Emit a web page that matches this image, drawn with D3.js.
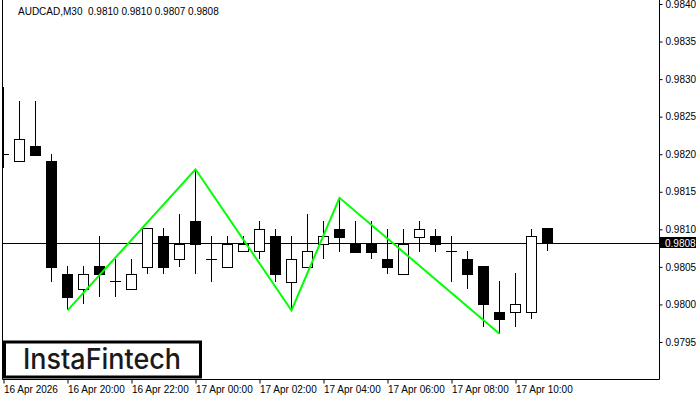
<!DOCTYPE html>
<html>
<head>
<meta charset="utf-8">
<script src="https://cdn.jsdelivr.net/npm/d3@7"></script>
<style>
  body { margin: 0; background: #fff; }
  text { font-family: "Liberation Sans", Arial, sans-serif; }
</style>
</head>
<body>
<svg id="chart"></svg>
<script>
const width = 700, height = 400;
const plot = {left: 2, right: 659, top: 0, bottom: 379};

// AUDCAD M30 candles, 16 Apr 18:00 -> 17 Apr 11:00
const times = ["18:00", "18:30", "19:00", "19:30", "20:00", "20:30", "21:00", "21:30", "22:00", "22:30",
  "23:00", "23:30", "00:00", "00:30", "01:00", "01:30", "02:00", "02:30", "03:00", "03:30",
  "04:00", "04:30", "05:00", "05:30", "06:00", "06:30", "07:00", "07:30", "08:00", "08:30",
  "09:00", "09:30", "10:00", "10:30", "11:00"];
const opens = [0.98200, 0.98191, 0.98211, 0.98191, 0.98041, 0.98020, 0.98051, 0.98031, 0.98020, 0.98050,
  0.98091, 0.98061, 0.98111, 0.98061, 0.98050, 0.98071, 0.98071, 0.98091, 0.98030, 0.98050,
  0.98081, 0.98101, 0.98081, 0.98081, 0.98061, 0.98041, 0.98090, 0.98091, 0.98071, 0.98061,
  0.98051, 0.97990, 0.97990, 0.97990, 0.98102];
const highs = [0.98290, 0.98271, 0.98271, 0.98200, 0.98051, 0.98051, 0.98091, 0.98061, 0.98061, 0.98102,
  0.98102, 0.98120, 0.98180, 0.98091, 0.98091, 0.98091, 0.98111, 0.98101, 0.98091, 0.98120,
  0.98111, 0.98142, 0.98111, 0.98111, 0.98101, 0.98101, 0.98111, 0.98101, 0.98091, 0.98071,
  0.98051, 0.98031, 0.98042, 0.98101, 0.98102];
const lows = [0.98182, 0.98191, 0.98199, 0.98030, 0.97992, 0.98001, 0.98010, 0.98010, 0.98020, 0.98041,
  0.98041, 0.98050, 0.98041, 0.98030, 0.98050, 0.98071, 0.98061, 0.98030, 0.97992, 0.98050,
  0.98061, 0.98070, 0.98070, 0.98060, 0.98040, 0.98041, 0.98070, 0.98070, 0.98030, 0.98020,
  0.97970, 0.97961, 0.97970, 0.97981, 0.98071];
const closes = [0.98200, 0.98220, 0.98199, 0.98050, 0.98010, 0.98041, 0.98041, 0.98031, 0.98041, 0.98102,
  0.98050, 0.98081, 0.98081, 0.98061, 0.98081, 0.98081, 0.98101, 0.98041, 0.98061, 0.98071,
  0.98091, 0.98090, 0.98070, 0.98070, 0.98050, 0.98081, 0.98101, 0.98081, 0.98071, 0.98041,
  0.98001, 0.97981, 0.98001, 0.98091, 0.98082];

// green pattern polyline
const patternTimes = ["20:00", "00:00", "03:00", "04:30", "09:30"];
const patternValues = [0.97992, 0.98180, 0.97992, 0.98142, 0.97961];

const tickTimes = ["18:00", "20:00", "22:00", "00:00", "02:00", "04:00", "06:00", "08:00", "10:00"];
const tickLabels = ["16 Apr 2026", "16 Apr 20:00", "16 Apr 22:00", "17 Apr 00:00", "17 Apr 02:00",
  "17 Apr 04:00", "17 Apr 06:00", "17 Apr 08:00", "17 Apr 10:00"];
const priceTicks = [0.9795, 0.9800, 0.9805, 0.9810, 0.9815, 0.9820, 0.9825, 0.9830, 0.9835, 0.9840];

const svg = d3.select("#chart")
    .attr("width", width)
    .attr("height", height)
    .style("background", "#ffffff");

const xScale = d3.scalePoint()
    .domain(times)
    .range([3, 3 + 16 * (times.length - 1)]);

const yScale = d3.scaleLinear()
    .domain([0.9795, 0.9840])
    .range([342, 4]);

svg.append("clipPath").attr("id", "plotclip")
  .append("rect")
    .attr("x", plot.left + 1).attr("y", 0)
    .attr("width", plot.right - plot.left - 1).attr("height", plot.bottom);

const g = svg.append("g").attr("clip-path", "url(#plotclip)");

// current price line
const last = closes[closes.length - 1];
g.append("line")
    .attr("x1", plot.left).attr("x2", plot.right)
    .attr("y1", Math.round(yScale(last)) + 0.5).attr("y2", Math.round(yScale(last)) + 0.5)
    .attr("stroke", "#000").attr("stroke-width", 1);

const candles = times.map((t, i) => ({t: t, o: opens[i], h: highs[i], l: lows[i], c: closes[i]}));

const cg = g.append("g").attr("shape-rendering", "crispEdges");

// wicks
cg.selectAll(".wick")
  .data(candles)
  .join("line")
    .attr("x1", d => xScale(d.t) + 0.5).attr("x2", d => xScale(d.t) + 0.5)
    .attr("y1", d => Math.round(yScale(d.h))).attr("y2", d => Math.round(yScale(d.l)))
    .attr("stroke", "#000");

// bodies
cg.selectAll(".body")
  .data(candles.filter(d => Math.round(yScale(d.o)) !== Math.round(yScale(d.c))))
  .join("rect")
    .attr("x", d => xScale(d.t) - 4.5)
    .attr("y", d => Math.round(yScale(Math.max(d.o, d.c))) + 0.5)
    .attr("width", 10)
    .attr("height", d => Math.round(yScale(Math.min(d.o, d.c))) - Math.round(yScale(Math.max(d.o, d.c))))
    .attr("fill", d => d.c > d.o ? "#fff" : "#000")
    .attr("stroke", "#000");

// doji
cg.selectAll(".doji")
  .data(candles.filter(d => Math.round(yScale(d.o)) === Math.round(yScale(d.c))))
  .join("line")
    .attr("x1", d => xScale(d.t) - 5).attr("x2", d => xScale(d.t) + 6)
    .attr("y1", d => Math.round(yScale(d.o)) + 0.5).attr("y2", d => Math.round(yScale(d.o)) + 0.5)
    .attr("stroke", "#000");

// pattern
const pattern = patternTimes.map((t, i) => ({t: t, v: patternValues[i]}));
g.append("path")
    .datum(pattern)
    .attr("fill", "none")
    .attr("stroke", "#00ff00")
    .attr("stroke-width", 2)
    .attr("d", d3.line().x(d => xScale(d.t) + 0.5).y(d => yScale(d.v)));

// frame
svg.append("path")
    .attr("d", `M${plot.left + 0.5},0V${plot.bottom + 0.5}H${plot.right + 0.5}V0`)
    .attr("fill", "none").attr("stroke", "#000");

// right price axis
const yAxis = svg.append("g")
    .attr("transform", `translate(${plot.right + 0.5},0)`)
    .call(d3.axisRight(yScale).tickValues(priceTicks).tickFormat(d3.format(".4f")).tickSize(3).tickPadding(3))
    .call(a => a.select(".domain").remove());
yAxis.selectAll("text").style("font-size", "10px").attr("fill", "#000")
    .style("font-family", "'Liberation Sans', Arial, sans-serif");
yAxis.selectAll("line").attr("stroke", "#000");

// current price label
const ly = Math.round(yScale(last));
svg.append("rect")
    .attr("x", plot.right + 1).attr("y", ly - 6)
    .attr("width", 36).attr("height", 11)
    .attr("fill", "#000");
svg.append("text")
    .attr("x", plot.right + 6).attr("y", ly)
    .attr("dy", "0.35em")
    .attr("fill", "#fff")
    .style("font-size", "10px")
    .text(d3.format(".4f")(last));

// bottom time axis
const xAxis = svg.append("g")
    .attr("transform", `translate(0.5,${plot.bottom + 0.5})`)
    .call(d3.axisBottom(xScale).tickValues(tickTimes).tickFormat((d, i) => tickLabels[i]).tickSize(4))
    .call(a => a.select(".domain").remove());
xAxis.selectAll("line").attr("stroke", "#000");
xAxis.selectAll("text")
    .attr("text-anchor", "start")
    .attr("x", 0).attr("y", 6).attr("dy", "0.71em")
    .attr("fill", "#000")
    .style("font-size", "10px")
    .style("font-family", "'Liberation Sans', Arial, sans-serif");

// title
const f4 = d3.format(".4f");
svg.append("text")
    .attr("x", 18).attr("y", 15)
    .style("font-size", "10px")
    .style("white-space", "pre")
    .attr("fill", "#000")
    .text(`AUDCAD,M30  ${f4(opens[34])} ${f4(highs[34])} ${f4(lows[34])} ${f4(closes[34])}`);

// logo
svg.append("rect")
    .attr("x", 4.5).attr("y", 342)
    .attr("width", 196).attr("height", 35)
    .attr("fill", "#fff").attr("stroke", "#000").attr("stroke-width", 3);
svg.append("text")
    .attr("x", 23).attr("y", 369)
    .attr("textLength", 158)
    .attr("lengthAdjust", "spacingAndGlyphs")
    .style("font-family", "Inter, 'Noto Sans', sans-serif")
    .style("font-size", "28px")
    .style("font-weight", "500")
    .attr("fill", "#1a1a1a")
    .text("InstaFintech");
</script>
</body>
</html>
